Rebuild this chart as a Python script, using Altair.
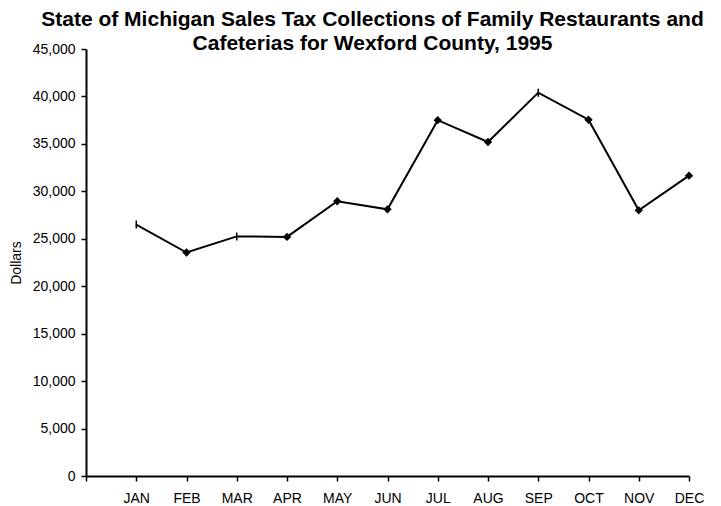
import altair as alt
import pandas as pd

months = ["JAN", "FEB", "MAR", "APR", "MAY", "JUN", "JUL", "AUG", "SEP", "OCT", "NOV", "DEC"]
sales = [26500, 23550, 25250, 25200, 28950, 28100, 37500, 35200, 40400, 37550, 28000, 31650]
marker = ["bar", "diamond", "bar", "diamond", "diamond", "diamond", "diamond", "diamond", "bar", "diamond", "diamond", "diamond"]

df = pd.DataFrame({"month": months, "idx": list(range(1, 13)), "sales": sales, "marker": marker})

FONT = "Liberation Sans"
month_expr = "['', " + ", ".join(f"'{m}'" for m in months) + "][datum.value]"

x = alt.X("idx:Q", scale=alt.Scale(domain=[0, 12], nice=False, zero=False),
          axis=alt.Axis(values=list(range(0, 13)), labelExpr=month_expr, title=None,
                        grid=False, domainColor="black", domainWidth=2, tickColor="black",
                        tickWidth=1.5, tickSize=5, labelPadding=10, labelFont=FONT,
                        labelFontSize=14, labelColor="black", labelAlign="center"))
y = alt.Y("sales:Q", scale=alt.Scale(domain=[0, 45000], nice=False),
          axis=alt.Axis(values=list(range(0, 45001, 5000)), format=",.0f", title="Dollars",
                        grid=False, domainColor="black", domainWidth=2, tickColor="black",
                        tickWidth=1.5, tickSize=5, labelPadding=6, labelFont=FONT,
                        labelFontSize=14, labelColor="black", titleFont=FONT, titleFontSize=14,
                        titleFontWeight="normal", titleColor="black", titlePadding=9))

base = alt.Chart(df)
line = base.mark_line(color="black", strokeWidth=2).encode(x=x, y=y)
diamonds = base.transform_filter(alt.datum.marker == "diamond").mark_point(
    shape="diamond", filled=True, color="black", size=70, opacity=1).encode(x=x, y=y)
bars = base.transform_filter(alt.datum.marker == "bar").mark_point(
    shape="M0,-1L0,1", filled=False, color="black", strokeWidth=1.5, size=64, opacity=1).encode(x=x, y=y)

chart = alt.layer(line, diamonds, bars).properties(
    width=603, height=427,
    title=alt.TitleParams(
        ["State of Michigan Sales Tax Collections of Family Restaurants and",
         "Cafeterias for Wexford County, 1995"],
        font=FONT, fontSize=21, fontWeight="bold", color="black",
        anchor="middle", lineHeight=24, dx=-15, offset=-12),
    autosize=alt.AutoSizeParams(type="none"),
    padding={"left": 78, "top": 41, "right": 24, "bottom": 30},
).configure_view(stroke=None)

chart.save("out.html", embed_options={"renderer": "svg", "actions": False})
